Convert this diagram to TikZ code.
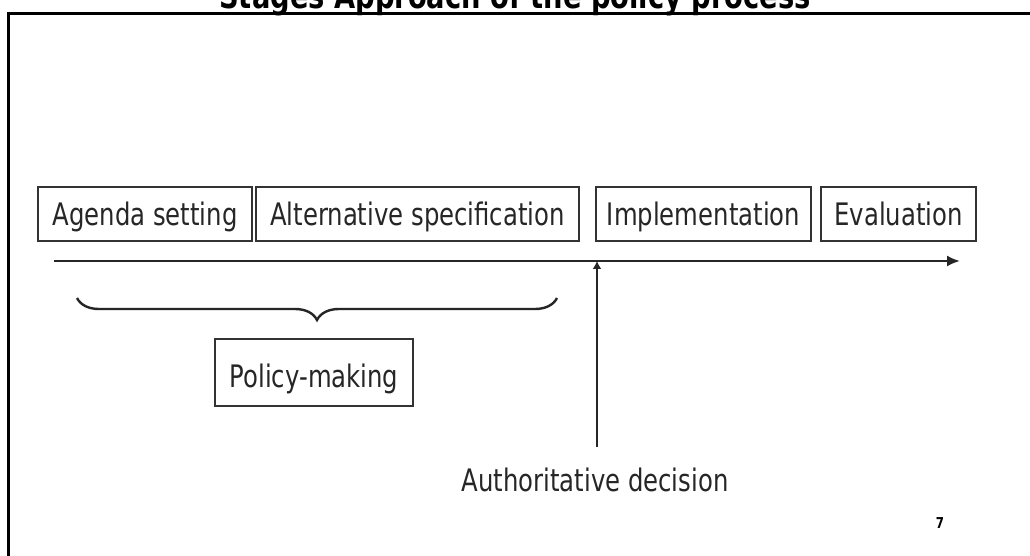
\documentclass[tikz,border=0pt]{standalone}
\usepackage{fontspec}
\setmainfont[FakeStretch=0.785]{DejaVu Sans}
\usetikzlibrary{arrows.meta,decorations.pathreplacing}

\begin{document}
\begin{tikzpicture}[x=0.5pt,y=-0.5pt]
        \tikzstyle{stage}=[draw=black!80, line width=1pt, minimum height=27pt, inner sep=0pt, text height=12pt, text depth=0pt, text=black!85, font=\fontsize{15.5}{18}\selectfont]
        \tikzstyle{plain}=[inner sep=0pt, text=black!85, font=\fontsize{15.5}{18}\selectfont]

        \useasboundingbox[fill=white] (0,0) rectangle (1030,556);

        \node[anchor=base, font=\fontsize{17.4}{20}\selectfont\bfseries] (title) at (515,9) {Stages Approach of the policy process};
        \draw[line width=1.5pt] (8,556) -- (8,14) -- (1030,14);

        \node[stage, minimum width=107pt] (agenda) at (145,214) {Agenda setting};
        \node[stage, minimum width=161.5pt] (alternative) at (417.5,214) {Alternative specification};
        \node[stage, minimum width=107.5pt] (implementation) at (703.5,214) {Implementation};
        \node[stage, minimum width=77.5pt] (evaluation) at (898.5,214) {Evaluation};

        \coordinate (start) at (54,261);
        \coordinate (end) at (960,261);
        \draw[line width=1pt, black!85, -{Latex[length=6.5pt,width=5.5pt]}] (start) -- (end);

        \coordinate (bracel) at (77,298);
        \coordinate (bracer) at (557,298);
        \draw[line width=1.2pt, black!85, decorate, decoration={brace, amplitude=11pt, mirror}] (bracel) -- (bracer);

        \node[stage, minimum width=99pt, minimum height=33.5pt, text height=14.5pt] (policy) at (314,372.5) {Policy-making};

        \node[plain, anchor=base] (decision) at (595,491) {Authoritative decision};
        \coordinate (foot) at (597,447);
        \draw[line width=1pt, black!85, -{Latex[length=4pt,width=4.5pt]}] (foot) -- (foot |- start);

        \node[anchor=base, inner sep=0pt, font=\fontsize{7.5}{9}\selectfont\bfseries] (pagenum) at (940,528) {7};
    \end{tikzpicture}
\end{document}
